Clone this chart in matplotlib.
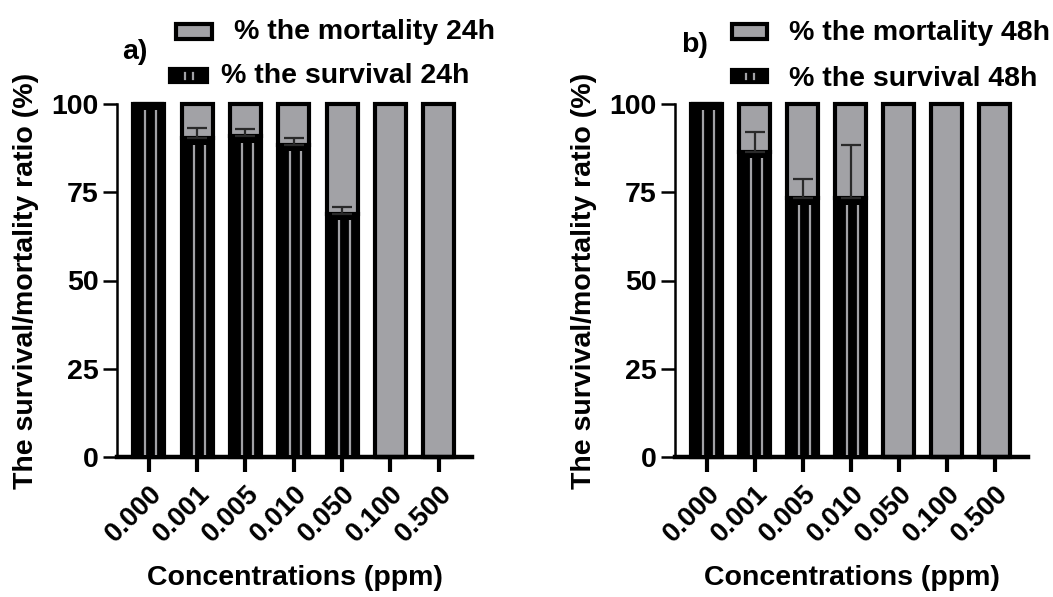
import matplotlib
matplotlib.use("Agg")
import matplotlib.pyplot as plt
from matplotlib.patches import Rectangle
import numpy as np

plt.rcParams['font.family'] = ['Liberation Sans', 'DejaVu Sans']
plt.rcParams['font.weight'] = 'bold'

categories = ["0.000", "0.001", "0.005", "0.010", "0.050", "0.100", "0.500"]
survival_24 = [100, 90.3, 90.8, 88.4, 68.8, 0, 0]
err_24 = [0, 3.0, 2.2, 2.1, 2.0, 0, 0]
survival_48 = [100, 86.5, 73.3, 73.3, 0, 0, 0]
err_48 = [0, 5.5, 5.5, 15.0, 0, 0, 0]
mortality_24 = [100 - v for v in survival_24]
mortality_48 = [100 - v for v in survival_48]

GRAY = '#a2a2a6'
W, H = 1053, 597
fig = plt.figure(figsize=(W / 100, H / 100), dpi=100)


def fx(px):
    return px / W


def fy(py):
    return 1 - py / H


def legend_box(x0, y0, x1, y1, face, stripes=False):
    fig.add_artist(Rectangle((fx(x0), fy(y1)), fx(x1 - x0), (y1 - y0) / H,
                             transform=fig.transFigure, facecolor=face,
                             edgecolor='black', linewidth=3))
    if stripes:
        xm = (x0 + x1) / 2
        for dx in (-4, 4):
            fig.add_artist(plt.Line2D([fx(xm + dx)] * 2, [fy(y0 + 4), fy(y1 - 3)],
                                      transform=fig.transFigure, color=GRAY, lw=1.6))


def panel(rect, surv, mort, err, tag, hours, lg):
    ax = fig.add_axes(rect)
    x = np.arange(len(categories))
    bw = 0.64
    ax.bar(x, surv, width=bw, color='black', edgecolor='black', linewidth=3, clip_on=False, zorder=2)
    ax.bar(x, mort, bottom=surv, width=bw, color=GRAY, edgecolor='black', linewidth=3, clip_on=False, zorder=2)
    # inner gray stripes of survival bars
    for xi, s in zip(x, surv):
        if s > 6:
            for off in (-0.073, 0.156):
                ax.plot([xi + off, xi + off], [0.6, s - 1.8], color=GRAY, lw=1.6, zorder=3,
                        solid_capstyle='butt')
    yerr = np.array([[0] * len(err), err])
    mask = np.array(err) > 0
    ax.errorbar(x[mask], np.array(surv)[mask], yerr=yerr[:, mask], fmt='none', ecolor='#2a2a2a',
                elinewidth=1.6, capsize=7, capthick=1.6, zorder=4)
    ax.set_xlim(-0.66, 6.69)
    ax.set_ylim(0, 100)
    ax.set_yticks([0, 25, 50, 75, 100])
    ax.set_xticks(x)
    ax.set_xticklabels(categories, rotation=45, ha='right', va='top', rotation_mode='anchor')
    for sp in ('top', 'right'):
        ax.spines[sp].set_visible(False)
    ax.spines['left'].set_linewidth(1.8)
    ax.spines['bottom'].set_linewidth(3.2)
    ax.tick_params(axis='y', length=10, width=1.8, labelsize=20.5, pad=3)
    ax.tick_params(axis='x', length=11, width=3, labelsize=19.5, pad=6)
    for lab in ax.get_xticklabels() + ax.get_yticklabels():
        lab.set_fontweight('bold')
    ax.set_ylabel('The survival/mortality ratio (%)', fontsize=20.5, fontweight='bold', labelpad=9)
    ax.set_xlabel('Concentrations (ppm)', fontsize=20.5, fontweight='bold', labelpad=13)

    # legend (manual, figure pixels from top)
    (mx0, my0, mx1, my1, mtx, mty), (sx0, sy0, sx1, sy1, stx, sty), (tx, ty) = lg
    legend_box(mx0, my0, mx1, my1, GRAY)
    legend_box(sx0, sy0, sx1, sy1, 'black', stripes=True)
    fig.text(fx(mtx), fy(mty), f'% the mortality {hours}', fontsize=20.5, fontweight='bold',
             ha='left', va='center')
    fig.text(fx(stx), fy(sty), f'% the survival {hours}', fontsize=20.5, fontweight='bold',
             ha='left', va='center')
    fig.text(fx(tx), fy(ty), tag, fontsize=20.5, fontweight='bold', ha='left', va='center')
    return ax


bot = (H - 457) / H
hgt = 353 / H
panel([117 / W, bot, 355 / W, hgt], survival_24, mortality_24, err_24, 'a)', '24h',
      ((176, 24, 212, 39, 234, 32), (170, 69, 207, 82, 221, 76), (122, 52)))
panel([675 / W, bot, 353 / W, hgt], survival_48, mortality_48, err_48, 'b)', '48h',
      ((732, 24, 767, 39, 789, 33), (732, 70, 767, 82, 789, 79), (681, 45)))

fig.savefig('out.png', dpi=100)
